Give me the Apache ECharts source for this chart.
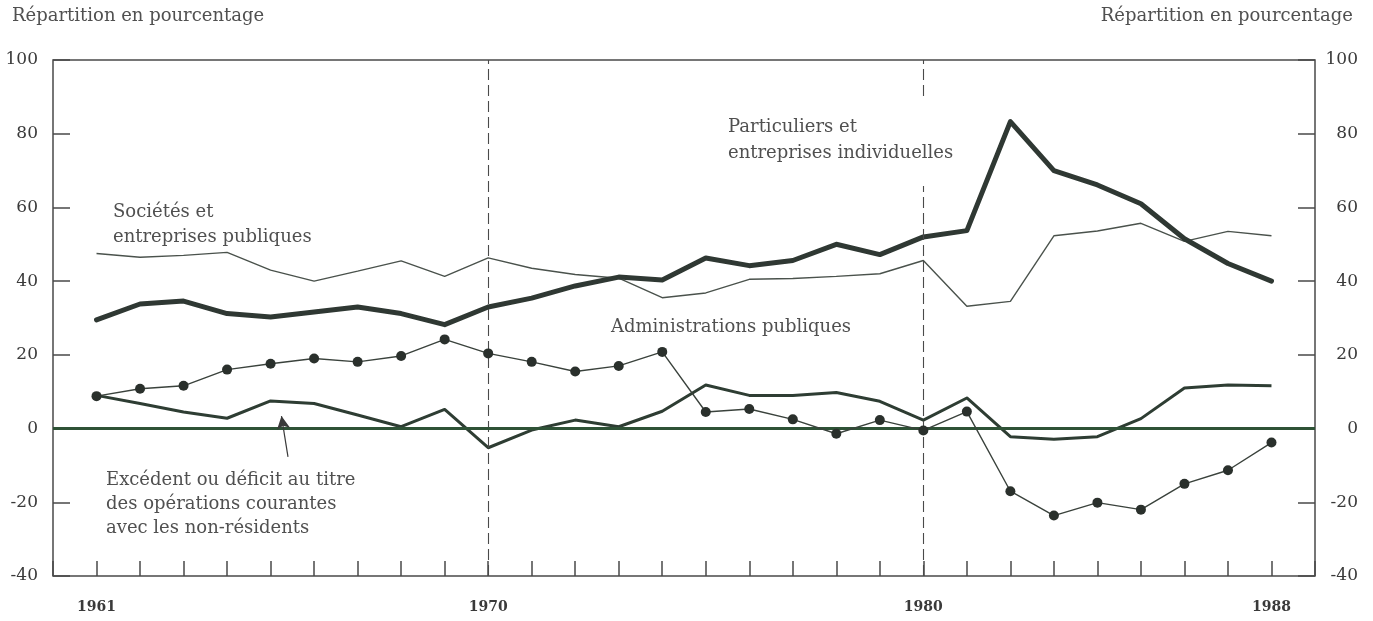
<!DOCTYPE html>
<html>
<head>
<meta charset="utf-8">
<script src="https://cdn.jsdelivr.net/npm/echarts@6/dist/echarts.min.js"></script>
<style>
  html, body { margin: 0; padding: 0; background: #fff; }
  #chart { width: 1373px; height: 621px; }
</style>
</head>
<body>
<div id="chart"></div>
<script>
// années
const years = [1961, 1962, 1963, 1964, 1965, 1966, 1967, 1968, 1969, 1970,
  1971, 1972, 1973, 1974, 1975, 1976, 1977, 1978, 1979, 1980,
  1981, 1982, 1983, 1984, 1985, 1986, 1987, 1988];

// Sociétés et entreprises publiques
const societes = [47.5, 46.5, 47, 47.8, 43, 40, 42.7, 45.5, 41.3, 46.3,
  43.5, 41.8, 40.8, 35.5, 36.8, 40.5, 40.7, 41.3, 42, 45.6,
  33.2, 34.5, 52.3, 53.6, 55.7, 50.8, 53.5, 52.3];

// Particuliers et entreprises individuelles
const particuliers = [29.5, 33.8, 34.6, 31.2, 30.3, 31.6, 33, 31.2, 28.2, 33,
  35.4, 38.7, 41.1, 40.3, 46.3, 44.2, 45.6, 50, 47.2, 52,
  53.7, 83.3, 70, 66.1, 61, 51.5, 44.8, 40];

// Administrations publiques
const administrations = [8.8, 10.8, 11.6, 16, 17.6, 19, 18.1, 19.7, 24.2, 20.4,
  18.1, 15.5, 17, 20.8, 4.5, 5.3, 2.5, -1.4, 2.3, -0.5,
  4.6, -17, -23.6, -20.1, -22, -15, -11.3, -3.8];

// Excédent ou déficit au titre des opérations courantes
const excedent = [9, 6.8, 4.5, 2.8, 7.5, 6.8, 3.7, 0.5, 5.2, -5.2,
  -0.4, 2.3, 0.5, 4.7, 11.8, 9, 9, 9.8, 7.4, 2.3,
  8.3, -2.2, -2.9, -2.2, 2.7, 11, 11.8, 11.6];

const labelledYears = [1961, 1970, 1980, 1988];
const dashedYears = [1970, 1980];
const arrowFrom = [1965.4, -7.7];
const arrowTo = [1965.25, 3.4];

const pairs = (vals) => vals.map((v, i) => [years[i], v]);

const ink = '#2f3833';
const textCol = '#505050';
const serif = '"DejaVu Serif", "Liberation Serif", serif';

const yAxisBase = {
  type: 'value',
  min: -40,
  max: 100,
  interval: 20,
  splitLine: { show: false },
  axisLine: { show: false },
  axisTick: { show: true, inside: true, length: 17, lineStyle: { color: '#4a4a4a', width: 1.5 } }
};

const option = {
  backgroundColor: '#fff',
  animation: false,
  grid: {
    left: 53, right: 58, top: 60, bottom: 45,
    show: true, borderColor: '#4a4a4a', borderWidth: 1.5, backgroundColor: 'transparent'
  },
  xAxis: {
    type: 'value',
    min: 1960,
    max: 1989,
    interval: 1,
    splitLine: { show: false },
    axisLine: { show: false, onZero: false },
    axisTick: { show: true, inside: true, length: 15, lineStyle: { color: '#4a4a4a', width: 1.5 } },
    axisLabel: {
      margin: 24,
      fontFamily: serif,
      fontSize: 14,
      fontWeight: 'bold',
      color: '#3a3a3a',
      formatter: (v) => labelledYears.includes(v) ? String(v) : ''
    }
  },
  yAxis: [
    Object.assign({}, yAxisBase, {
      position: 'left',
      axisLabel: { margin: 15, fontFamily: serif, fontSize: 17, color: '#3a3a3a' }
    }),
    Object.assign({}, yAxisBase, {
      position: 'right',
      axisLabel: { margin: 43, align: 'right', fontFamily: serif, fontSize: 17, color: '#3a3a3a' }
    })
  ],
  series: [
    {
      name: 'Sociétés et entreprises publiques',
      type: 'line',
      data: pairs(societes),
      symbol: 'none',
      lineStyle: { color: '#4a524c', width: 1.4 },
      markLine: {
        silent: true,
        symbol: ['none', 'none'],
        label: { show: false },
        lineStyle: { color: '#4a4a4a', type: [11, 5], width: 1.1 },
        data: dashedYears.map(y => ({ xAxis: y }))
      },
      z: 2
    },
    {
      name: 'Zéro',
      type: 'line',
      data: [],
      markLine: {
        silent: true,
        symbol: ['none', 'none'],
        label: { show: false },
        lineStyle: { color: '#2e5236', type: 'solid', width: 3 },
        data: [{ yAxis: 0 }]
      },
      z: 3
    },
    {
      name: 'Particuliers et entreprises individuelles',
      type: 'line',
      data: pairs(particuliers),
      symbol: 'none',
      lineStyle: { color: ink, width: 5, join: 'round', cap: 'round' },
      z: 4
    },
    {
      name: 'Excédent ou déficit',
      type: 'line',
      data: pairs(excedent),
      symbol: 'none',
      lineStyle: { color: '#2e3d33', width: 3, join: 'round' },
      markLine: {
        silent: true,
        symbol: ['none', 'arrow'],
        symbolSize: [10, 13],
        label: { show: false },
        lineStyle: { color: '#3a3a3a', type: 'solid', width: 1.2 },
        data: [[{ coord: arrowFrom }, { coord: arrowTo }]]
      },
      z: 4
    },
    {
      name: 'Administrations publiques',
      type: 'line',
      data: pairs(administrations),
      symbol: 'circle',
      symbolSize: 10,
      itemStyle: { color: '#2a302c', borderWidth: 0 },
      lineStyle: { color: '#3a423c', width: 1.4 },
      z: 5
    }
  ],
  graphic: [
    { type: 'text', left: 12, top: 7, style: { text: 'Répartition en pourcentage', font: '18px ' + serif, fill: textCol } },
    { type: 'text', right: 20, top: 7, style: { text: 'Répartition en pourcentage', font: '18px ' + serif, fill: textCol } },
    { type: 'text', left: 113, top: 200, style: { text: 'Sociétés et\nentreprises publiques', font: '18px ' + serif, lineHeight: 25, fill: textCol } },
    { type: 'text', left: 722, top: 96, z: 100,
      style: { text: 'Particuliers et\nentreprises individuelles', font: '18px ' + serif, lineHeight: 26, fill: textCol,
        backgroundColor: '#fff', padding: [18, 6, 20, 6] } },
    { type: 'text', left: 611, top: 318, style: { text: 'Administrations publiques', font: '18px ' + serif, fill: textCol } },
    { type: 'text', left: 106, top: 468, style: { text: 'Excédent ou déficit au titre\ndes opérations courantes\navec les non-résidents', font: '18px ' + serif, lineHeight: 24, fill: textCol } }
  ]
};

const chart = echarts.init(document.getElementById('chart'));
chart.setOption(option);
</script>
</body>
</html>
